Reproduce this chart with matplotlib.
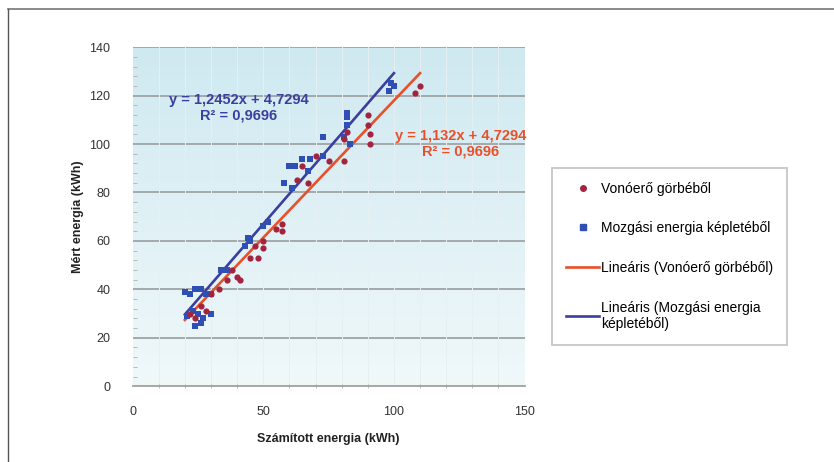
import numpy as np
import matplotlib.pyplot as plt
from matplotlib.lines import Line2D
from matplotlib.colors import LinearSegmentedColormap

plt.rcParams['font.family'] = ['Liberation Sans', 'DejaVu Sans']

# Vonóerő görbéből (számított, mért)
red_x = [22, 24, 26, 28, 30, 33, 36, 38, 40, 41, 45, 47, 48, 50, 50, 55, 57, 57,
         63, 65, 67, 70, 75, 81, 81, 82, 90, 91, 90, 91, 108, 110]
red_y = [30, 28, 33, 31, 38, 40, 44, 48, 45, 44, 53, 58, 53, 60, 57, 65, 67, 64,
         85, 91, 84, 95, 93, 93, 102, 105, 112, 104, 108, 100, 121, 124]

# Mozgási energia képletéből
blue_x = [20, 22, 24, 26, 28, 21, 23, 25, 27, 24, 26, 30, 30, 34, 36, 43, 44, 45,
          50, 52, 58, 60, 62, 61, 65, 67, 68, 73, 73, 81, 82, 82, 83, 82, 98, 99, 100]
blue_y = [39, 38, 40, 40, 38, 29, 31, 30, 28, 25, 26, 30, 38, 48, 48, 58, 61, 60,
          66, 68, 84, 91, 91, 82, 94, 89, 94, 103, 95, 103, 108, 113, 100, 111, 122, 125, 124]

red_slope, red_icpt = 1.132, 4.7294
blue_slope, blue_icpt = 1.2452, 4.7294
red_range = [20, 110]
blue_range = [20, 100]

RED_PT = '#a3243f'
BLUE_PT = '#2f4fb5'
RED_LN = '#e8502a'
BLUE_LN = '#3a3f9e'

fig = plt.figure(figsize=(8.34, 4.62), dpi=100)
ax = fig.add_axes([0.159, 0.164, 0.47, 0.734])
ax.set_xlim(0, 150)
ax.set_ylim(0, 140)

# light blue gradient background of the plot area
grad = np.linspace(0, 1, 256).reshape(-1, 1)
bg = LinearSegmentedColormap.from_list('bg', ['#f0f8fa', '#cfe9f1'])
ax.imshow(grad, extent=[0, 150, 0, 140], origin='lower', aspect='auto',
          cmap=bg, zorder=0)

for yv in range(20, 141, 20):
    ax.axhline(yv, color='#9ea4a6', lw=1.3, zorder=1)
for xv in range(10, 150, 10):
    ax.axvline(xv, color='#e6f0f3', lw=0.7, zorder=1)

xs = np.array(red_range)
ax.plot(xs, red_slope * xs + red_icpt, color=RED_LN, lw=1.9, zorder=3)
xs = np.array(blue_range)
ax.plot(xs, blue_slope * xs + blue_icpt, color=BLUE_LN, lw=1.9, zorder=3)

ax.scatter(blue_x, blue_y, marker='s', s=24, color=BLUE_PT, zorder=4, lw=0)
ax.scatter(red_x, red_y, marker='o', s=20, color=RED_PT, zorder=5, lw=0)

for s in ['top', 'right', 'left']:
    ax.spines[s].set_visible(False)
ax.spines['bottom'].set_color('#a0a0a0')
ax.spines['bottom'].set_linewidth(1.3)

ax.set_xticks([0, 50, 100, 150])
ax.set_yticks(range(0, 141, 20))
ax.set_xticks(range(10, 150, 10), minor=True)
ax.set_yticks(range(0, 141, 4), minor=True)
ax.tick_params(axis='x', which='major', labelsize=9, labelcolor='#333333',
               length=0, pad=14)
ax.tick_params(axis='y', which='major', labelsize=9, labelcolor='#333333',
               length=0, pad=16)
ax.tick_params(axis='y', which='minor', length=3, direction='in', color='#b0b0b0')
ax.tick_params(axis='x', which='minor', length=3, direction='inout', color='#b0b0b0')

ax.set_xlabel('Számított energia (kWh)', fontsize=9, fontweight='bold',
              color='#222222', labelpad=11)
ax.set_ylabel('Mért energia (kWh)', fontsize=9, fontweight='bold',
              color='#222222', labelpad=4)

ax.text(40.5, 115, 'y = 1,2452x + 4,7294\nR² = 0,9696', color=BLUE_LN,
        fontsize=10.5, fontweight='bold', ha='center', va='center',
        linespacing=1.15, zorder=6)
ax.text(125.5, 100, 'y = 1,132x + 4,7294\nR² = 0,9696', color=RED_LN,
        fontsize=10.5, fontweight='bold', ha='center', va='center',
        linespacing=1.15, zorder=6)

handles = [
    Line2D([], [], marker='o', ls='none', color=RED_PT, markersize=4),
    Line2D([], [], marker='s', ls='none', color=BLUE_PT, markersize=4.5),
    Line2D([], [], color=RED_LN, lw=1.9),
    Line2D([], [], color=BLUE_LN, lw=1.9),
]
labels = ['Vonóerő görbéből', 'Mozgási energia képletéből',
          'Lineáris (Vonóerő görbéből)', 'Lineáris (Mozgási energia\nképletéből)']
leg = fig.legend(handles, labels, loc='upper left', bbox_to_anchor=(0.662, 0.637),
                 fontsize=10, frameon=True, fancybox=False, edgecolor='#b8b8b8',
                 handlelength=2.4, handletextpad=0.1, labelspacing=1.85,
                 borderpad=1.0, borderaxespad=0)
leg.get_frame().set_linewidth(1.3)

# outer frame lines
fig.add_artist(Line2D([8 / 834, 1], [1 - 9 / 462] * 2, color='#777777', lw=1.2))
fig.add_artist(Line2D([8 / 834] * 2, [0, 1 - 9 / 462], color='#555555', lw=1.0))

fig.savefig('out.png', dpi=100)
